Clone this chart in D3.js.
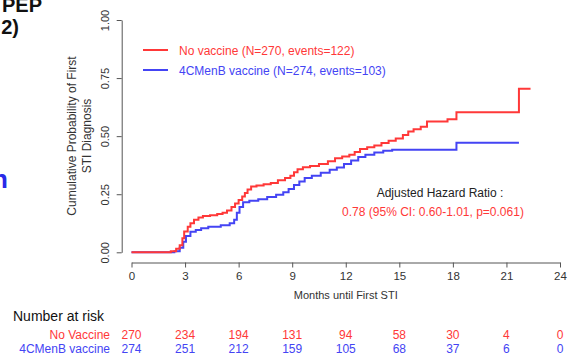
<!DOCTYPE html>
<html>
<head>
<meta charset="utf-8">
<script src="https://cdn.jsdelivr.net/npm/d3@7"></script>
<style>
  html, body { margin: 0; padding: 0; background: #fff; }
  svg { display: block; font-family: "Liberation Sans", Arial, sans-serif; }
</style>
</head>
<body>
<svg id="chart" width="577" height="357"></svg>
<script>
// Kaplan-Meier style cumulative incidence steps: [month, probability]
const noVaccineSteps = [
  [0, 0], [2.2, 0.005], [2.5, 0.015], [2.7, 0.03], [2.85, 0.06], [2.95, 0.09],
  [3.15, 0.11], [3.3, 0.125], [3.5, 0.14], [3.75, 0.15], [4.0, 0.156], [4.4, 0.16],
  [4.8, 0.165], [5.1, 0.17], [5.35, 0.18], [5.6, 0.195], [5.8, 0.21], [6.0, 0.225],
  [6.2, 0.24], [6.35, 0.255], [6.5, 0.27], [6.7, 0.283], [7.0, 0.288], [7.4, 0.293],
  [7.8, 0.298], [8.2, 0.31], [8.6, 0.32], [8.9, 0.33], [9.1, 0.345], [9.3, 0.358],
  [9.6, 0.366], [10.0, 0.372], [10.5, 0.38], [11.0, 0.392], [11.4, 0.405], [11.8, 0.412],
  [12.2, 0.42], [12.5, 0.432], [12.8, 0.445], [13.2, 0.452], [13.6, 0.46], [14.0, 0.47],
  [14.4, 0.48], [14.8, 0.49], [15.2, 0.505], [15.5, 0.52], [15.8, 0.53], [16.2, 0.54],
  [16.55, 0.563], [17.7, 0.573], [18.2, 0.603], [21.7, 0.704], [22.35, 0.704]
];
const vaccineSteps = [
  [0, 0], [2.4, 0.005], [2.7, 0.02], [2.9, 0.045], [3.05, 0.07], [3.3, 0.088],
  [3.6, 0.096], [3.9, 0.103], [4.3, 0.11], [5.0, 0.116], [5.5, 0.125], [5.75, 0.14],
  [5.9, 0.17], [6.05, 0.195], [6.25, 0.215], [6.6, 0.222], [7.1, 0.228], [7.6, 0.238],
  [8.1, 0.248], [8.5, 0.258], [8.8, 0.272], [9.1, 0.29], [9.4, 0.305], [9.7, 0.32],
  [10.1, 0.33], [10.6, 0.342], [11.1, 0.355], [11.5, 0.365], [11.9, 0.38], [12.3, 0.395],
  [12.7, 0.41], [13.1, 0.42], [13.6, 0.43], [14.1, 0.437], [14.6, 0.441], [18.2, 0.472],
  [21.7, 0.472]
];

const monthTicks = [0, 3, 6, 9, 12, 15, 18, 21, 24];
const probTicks = [0, 0.25, 0.5, 0.75, 1];
const riskNoVaccine = [270, 234, 194, 131, 94, 58, 30, 4, 0];
const riskVaccine = [274, 251, 212, 159, 105, 68, 37, 6, 0];

const seriesNames = ["No vaccine (N=270, events=122)", "4CMenB vaccine (N=274, events=103)"];
const riskNames = ["No Vaccine", "4CMenB vaccine"];

const RED = "#ff3838";
const BLUE = "#4444f4";
const AXIS = "#555";

const svg = d3.select("#chart");
svg.append("rect").attr("width", 577).attr("height", 357).attr("fill", "#fff");

const x = d3.scaleLinear().domain([0, 24]).range([131.5, 560]);
const y = d3.scaleLinear().domain([0, 1]).range([252.3, 20]);

// Slide text fragments at the left edge
svg.append("text").attr("x", 42).attr("y", 12).attr("text-anchor", "end")
  .attr("font-size", 20).attr("font-weight", "bold").attr("fill", "#111").text("PEP");
svg.append("text").attr("x", 19).attr("y", 34).attr("text-anchor", "end")
  .attr("font-size", 20).attr("font-weight", "bold").attr("fill", "#111").text("2)");
svg.append("text").attr("x", 8).attr("y", 188).attr("text-anchor", "end")
  .attr("font-size", 26).attr("font-weight", "bold").attr("fill", "#2a2ae8").text("n");

// X axis (detached, R style)
const xAxis = svg.append("g").attr("transform", "translate(0,262.5)")
  .call(d3.axisBottom(x).tickValues(monthTicks).tickSize(5).tickSizeOuter(0).tickPadding(4));
xAxis.select(".domain").attr("stroke", AXIS);
xAxis.selectAll(".tick line").attr("stroke", AXIS);
xAxis.selectAll(".tick text").attr("font-size", 11.5).attr("fill", "#333")
  .attr("font-family", "'Liberation Sans', Arial, sans-serif");

svg.append("text").attr("x", x(12)).attr("y", 299).attr("text-anchor", "middle")
  .attr("font-size", 11).attr("fill", "#333").text("Months until First STI");

// Y axis with rotated labels
const yAxis = svg.append("g").attr("transform", "translate(121.7,0)")
  .call(d3.axisLeft(y).tickValues(probTicks).tickSize(5).tickSizeOuter(0).tickFormat(d3.format(".2f")));
yAxis.select(".domain").attr("stroke", AXIS);
yAxis.selectAll(".tick line").attr("stroke", AXIS);
yAxis.selectAll(".tick text")
  .attr("transform", "rotate(-90)")
  .attr("x", 0).attr("y", -13).attr("dy", 0)
  .attr("text-anchor", "middle")
  .attr("font-size", 11).attr("fill", "#333")
  .attr("font-family", "'Liberation Sans', Arial, sans-serif");

const yTitle = svg.append("text").attr("transform", "translate(76,136) rotate(-90)")
  .attr("text-anchor", "middle").attr("font-size", 12).attr("fill", "#333");
yTitle.append("tspan").attr("x", 0).attr("y", 0).text("Cumulative Probability of First");
yTitle.append("tspan").attr("x", 0).attr("y", 15).text("STI Diagnosis");

// Step curves
const line = d3.line().x(d => x(d[0])).y(d => y(d[1])).curve(d3.curveStepAfter);
svg.append("path").datum(vaccineSteps).attr("d", line)
  .attr("fill", "none").attr("stroke", BLUE).attr("stroke-width", 2);
svg.append("path").datum(noVaccineSteps).attr("d", line)
  .attr("fill", "none").attr("stroke", RED).attr("stroke-width", 2);

// Legend
const legend = svg.append("g");
[[RED, 50], [BLUE, 70]].forEach(([c, ly], i) => {
  legend.append("line").attr("x1", 143).attr("x2", 168).attr("y1", ly).attr("y2", ly)
    .attr("stroke", c).attr("stroke-width", 2);
  legend.append("text").attr("x", 179).attr("y", ly + 4.5).attr("font-size", 12)
    .attr("fill", c).text(seriesNames[i]);
});

// Hazard ratio annotation
svg.append("text").attr("x", 440).attr("y", 197).attr("text-anchor", "middle")
  .attr("font-size", 12).attr("fill", "#222").text("Adjusted Hazard Ratio :");
svg.append("text").attr("x", 433).attr("y", 215.5).attr("text-anchor", "middle")
  .attr("font-size", 12).attr("fill", RED).text("0.78 (95% CI: 0.60-1.01, p=0.061)");

// Number at risk table
svg.append("text").attr("x", 13).attr("y", 321).attr("font-size", 14).attr("fill", "#111")
  .text("Number at risk");
[[riskNoVaccine, RED, 339], [riskVaccine, BLUE, 353]].forEach(([vals, c, ry], i) => {
  svg.append("text").attr("x", 110).attr("y", ry).attr("text-anchor", "end")
    .attr("font-size", 12).attr("fill", c).text(riskNames[i]);
  svg.append("g").selectAll("text").data(vals).join("text")
    .attr("x", (d, j) => x(monthTicks[j])).attr("y", ry)
    .attr("text-anchor", "middle").attr("font-size", 12).attr("fill", c)
    .text(d => d);
});
</script>
</body>
</html>
